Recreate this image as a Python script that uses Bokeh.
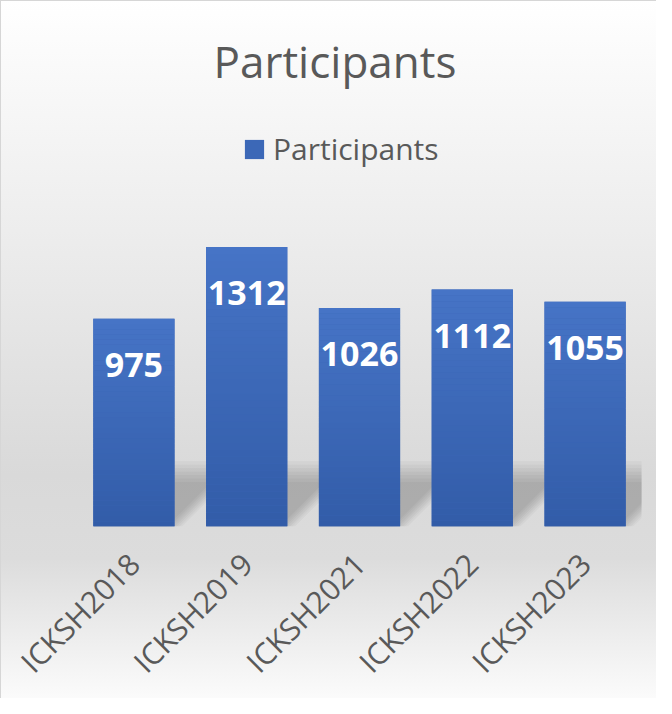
from math import pi
import numpy as np
from bokeh.plotting import figure
from bokeh.models import ColumnDataSource, LabelSet, Legend, LegendItem, FactorRange, Range1d
from bokeh.core.properties import value
from bokeh.embed import file_html
from bokeh.resources import INLINE

# ---- data ----
categories = ["ICKSH2018", "ICKSH2019", "ICKSH2021", "ICKSH2022", "ICKSH2023"]
participants = [975, 1312, 1026, 1112, 1055]
series_name = "Participants"
axis_max = 1400   # value at the top of the chart's plot area

# ---- style ----
FONT = "Open Sans"
GRAY = "#595959"
TOP_RGB = np.array([70, 116, 198])
BOT_RGB = np.array([50, 92, 168])
BAR_W = 0.72
N_SLICES = 40

W, H = 656, 698
MB_L, MB_R, MB_T, MB_B = 77, 15, 110, 171
PLOT_AREA_H = 299                    # px height that holds 0..axis_max
frame_h = H - MB_T - MB_B
frame_w = W - MB_L - MB_R
y_end = axis_max * frame_h / PLOT_AREA_H   # extra headroom holds the legend

p = figure(x_range=FactorRange(*categories), y_range=Range1d(0, y_end),
           width=W, height=H, output_backend="svg", toolbar_location=None,
           y_axis_location=None,
           min_border_left=MB_L, min_border_right=MB_R,
           min_border_top=MB_T, min_border_bottom=MB_B)

p.background_fill_alpha = 0
p.border_fill_alpha = 0
p.outline_line_color = None
p.grid.grid_line_color = None
p.styles = {
    "background": "linear-gradient(to bottom, #ffffff 0%, #ededed 33%, #d9d9d9 68%, #dcdcdc 80%, #fbfbfb 100%)",
    "box-shadow": "inset 1px 1px 0 0 #d6d6d6",
}

# ---- soft perspective shadow (skewed 45 deg to upper right) ----
px_per_unit = PLOT_AREA_H / axis_max
px_per_cat = frame_w / len(categories)
SHADOW_H_PX = 55
for k in range(-3, 4):
    xs, ys = [], []
    for i, v in enumerate(participants):
        hpx = SHADOW_H_PX + 3.5 * k
        hh = hpx / px_per_unit
        dx = hpx / px_per_cat
        e = 2.5 * k / px_per_cat
        xl, xr = i + 0.5 - BAR_W / 2, i + 0.5 + BAR_W / 2 + e
        xs.append([xl, xr, xr + dx, xl + dx])
        ys.append([0, 0, hh, hh])
    p.patches(xs, ys, fill_color="black", fill_alpha=0.031, line_color=None)

# ---- gradient bars: base bar + thin slices ----
p.vbar(x=categories, top=participants, width=BAR_W,
       fill_color="#3d67b6", line_color=None)
sx, sb, st, sc = [], [], [], []
for c, v in zip(categories, participants):
    for j in range(N_SLICES):
        t = (j + 0.5) / N_SLICES
        rgb = (BOT_RGB + (TOP_RGB - BOT_RGB) * t).round().astype(int)
        sx.append(c)
        sb.append(v * j / N_SLICES)
        st.append(v * (j + 1) / N_SLICES)
        sc.append("#%02x%02x%02x" % tuple(rgb))
bars_src = ColumnDataSource(dict(x=sx, bottom=sb, top=st, color=sc))
bars = p.vbar(x="x", bottom="bottom", top="top", width=BAR_W, source=bars_src,
              fill_color="color", line_color=None)

# ---- data labels ----
lab_src = ColumnDataSource(dict(x=categories, y=participants,
                                txt=[str(v) for v in participants]))
p.add_layout(LabelSet(x="x", y="y", text="txt", source=lab_src,
                      text_align="center", text_baseline="middle", y_offset=-46,
                      text_color="white", text_font=value(FONT),
                      text_font_style="bold", text_font_size="34px"))

# ---- legend ----
legend = Legend(items=[LegendItem(label=series_name, renderers=[bars], index=N_SLICES // 2)],
                location=(165, 357), orientation="horizontal",
                background_fill_alpha=0, border_line_color=None,
                label_text_font=FONT, label_text_font_size="30px", label_text_color=GRAY,
                glyph_width=24, glyph_height=24, label_standoff=7, padding=0, spacing=0,
                margin=0)
p.add_layout(legend)

# ---- title ----
p.title.text = series_name
p.title.align = "left"
p.title.offset = 136
p.title.standoff = 39
p.title.text_font = FONT
p.title.text_font_size = "44px"
p.title.text_font_style = "normal"
p.title.text_color = GRAY

# ---- x axis ----
ax = p.xaxis[0]
ax.major_label_orientation = pi / 4
ax.major_label_text_font = FONT
ax.major_label_text_font_size = "30px"
ax.major_label_text_color = GRAY
ax.axis_line_color = None
ax.major_tick_line_color = None
ax.minor_tick_line_color = None
ax.major_label_standoff = 26

open("out.html", "w").write(file_html(p, INLINE))
